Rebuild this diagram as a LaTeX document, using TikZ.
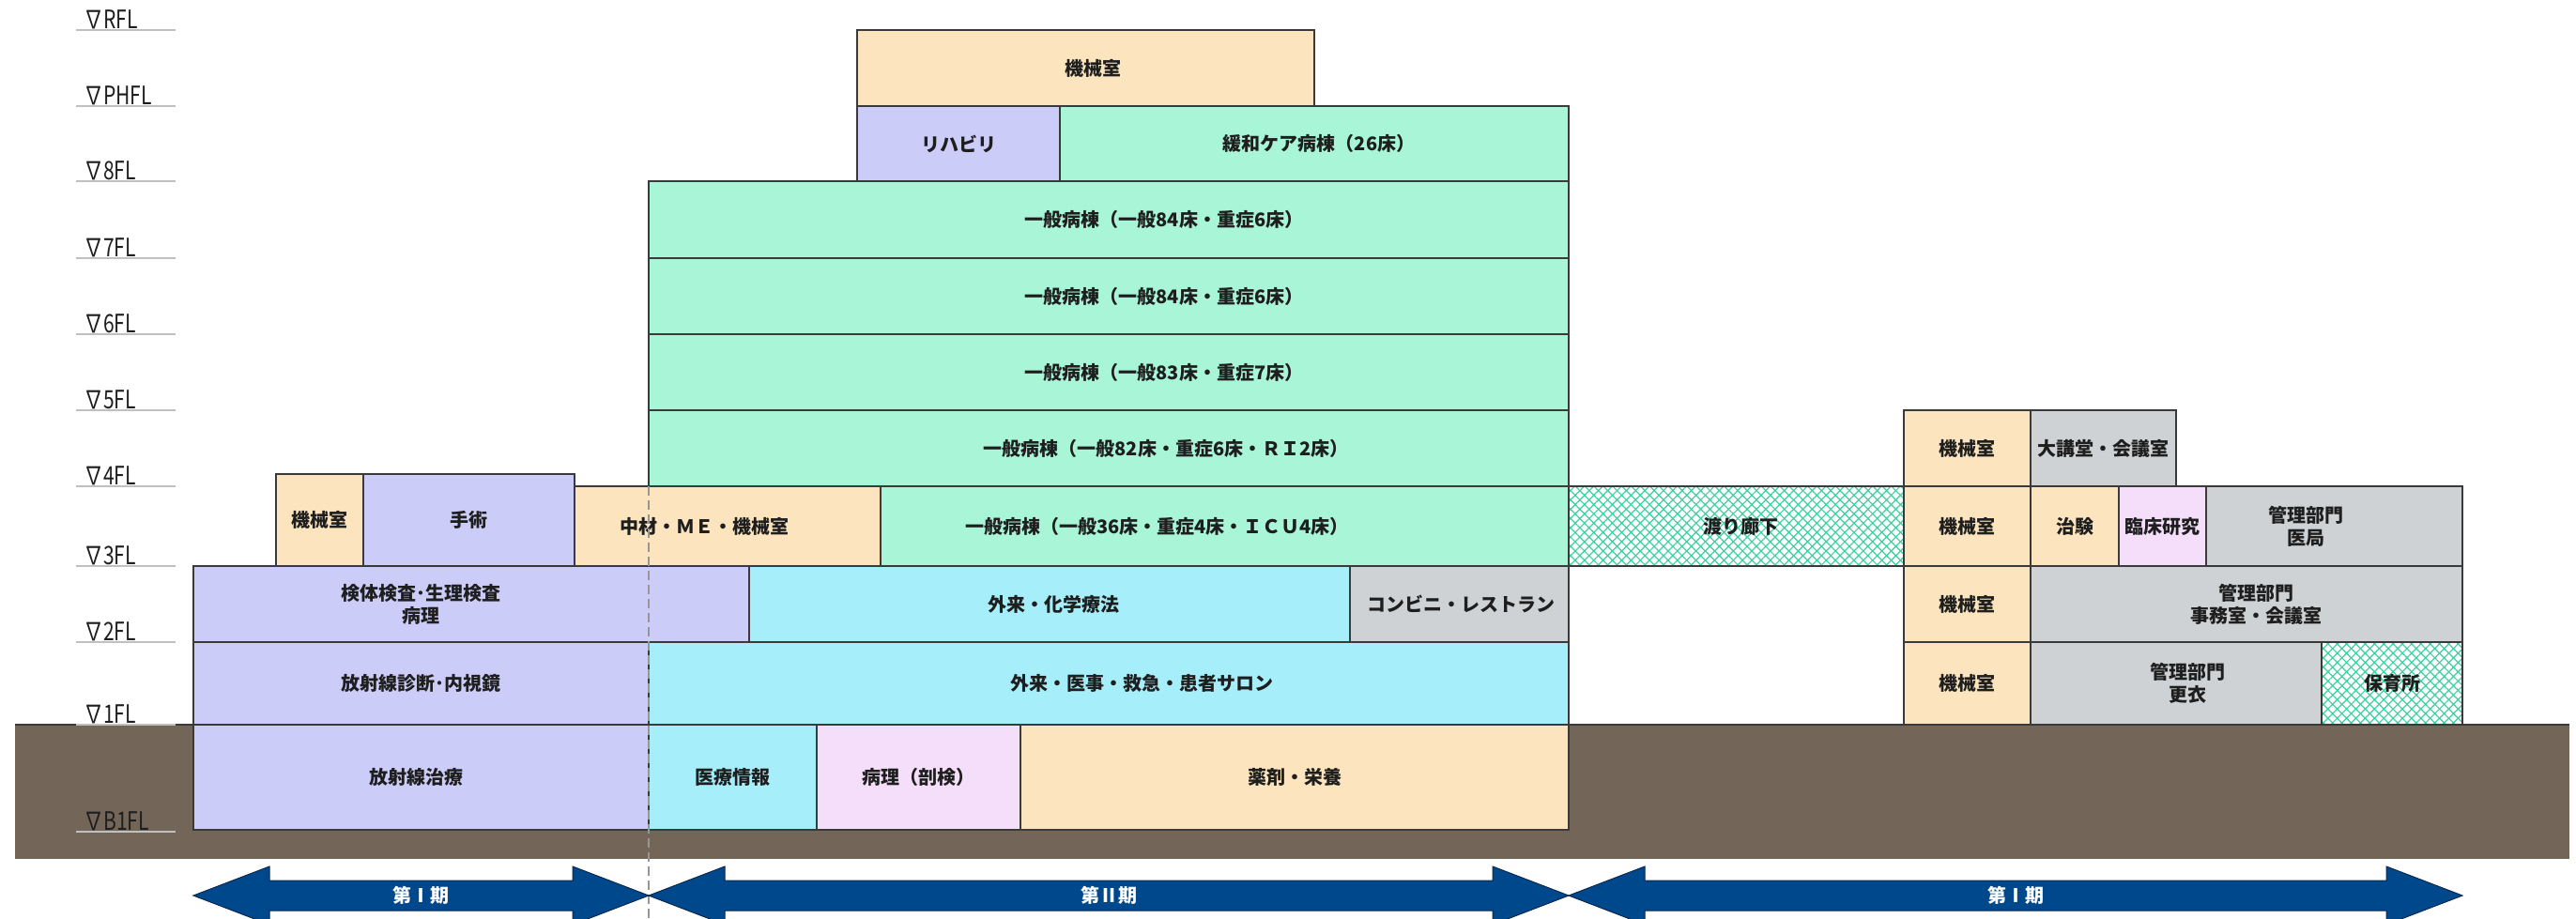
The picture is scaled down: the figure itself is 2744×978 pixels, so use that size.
\documentclass[tikz,border=0pt]{standalone}
\usepackage{fontspec}
\setmainfont{Noto Sans CJK JP}
\newfontfamily\lvlfont{Noto Sans CJK JP}[FakeStretch=0.78]
\usetikzlibrary{patterns.meta}
\definecolor{beige}{RGB}{252,229,190}
\definecolor{lav}{RGB}{204,204,249}
\definecolor{mint}{RGB}{168,245,216}
\definecolor{cyanl}{RGB}{166,238,250}
\definecolor{grayl}{RGB}{206,210,212}
\definecolor{pinkl}{RGB}{245,222,250}
\definecolor{ground}{RGB}{115,101,88}
\definecolor{hatch}{RGB}{60,208,160}
\definecolor{arrowblue}{RGB}{0,72,140}
\definecolor{arrowedge}{RGB}{10,40,80}
\definecolor{edge}{RGB}{58,58,58}
\definecolor{txt}{RGB}{30,30,30}
\definecolor{lvlgray}{RGB}{192,192,192}
\definecolor{dashgray}{RGB}{150,150,150}
\newcommand{\Room}[8]{%
  \node[roombox,#6,minimum width={(#4-#2)*1pt},minimum height={(#5-#3)*1pt}] (#1) at ({(#2+#4)/2},{(#3+#5)/2}) {};
  \node[roomtxt] (#1-t) at ([xshift=#7pt]#1.center) {#8};}
\newcommand{\Level}[3]{%
  \coordinate (#1-a) at (81,#2);
  \coordinate (#1-b) at (187,#2);
  \draw[lvlline] (#1-a) -- (#1-b);
  \node[lvl] (#1) at (89,{#2-2}) {#3};}
\newcommand{\Phase}[4]{%
  \draw[phase] (#2,954) -- ({#2+81},923) -- ({#2+81},938) -- ({#3-81},938) -- ({#3-81},923) -- (#3,954)
    -- ({#3-81},985) -- ({#3-81},970) -- ({#2+81},970) -- ({#2+81},985) -- cycle;
  \node[phasetext] (#1) at ({(#2+#3)/2},954) {#4};}
\begin{document}
\begin{tikzpicture}[x=1pt,y=-1pt,
  roombox/.style={draw=edge, line width=1.5pt, rectangle, inner sep=0pt, outer sep=0pt},
  roomtxt/.style={inner sep=0pt, align=center, font=\fontsize{20}{24}\selectfont\bfseries, text=txt},
  hatchbox/.style={preaction={fill=white},
    preaction={pattern={Lines[angle=45,distance=7pt,line width=1.2pt]}, pattern color=hatch},
    pattern={Lines[angle=-45,distance=7pt,line width=1.2pt]}, pattern color=hatch},
  lvl/.style={font=\lvlfont\fontsize{27}{27}\selectfont, anchor=base west, inner sep=0pt, text=txt},
  lvlline/.style={draw=lvlgray, line width=1.5pt},
  phase/.style={fill=arrowblue, draw=arrowedge, line width=1pt, line join=miter},
  phasetext/.style={text=white, inner sep=0pt, font=\fontsize{20}{20}\selectfont\bfseries}
]
\useasboundingbox (0,0) rectangle (2744,978);
\clip (0,0) rectangle (2744,978);
% ground
\fill[ground] (16,772) rectangle (2737,915);
\draw[edge, line width=1.5pt] (16,772) -- (2737,772);
% ---- Phase I (left)
\Room{rt}{206}{772}{691}{884}{fill=lav}{-5}{放射線治療}
\Room{rd}{206}{684}{691}{772}{fill=lav}{0}{放射線診断･内視鏡}
\Room{kt}{206}{603}{798}{684}{fill=lav}{-54}{検体検査･生理検査\\病理}
\Room{km4}{294}{505}{387}{603}{fill=beige}{0}{機械室}
\Room{op}{387}{505}{612}{603}{fill=lav}{0}{手術}
\Room{cz}{612}{518}{938}{603}{fill=beige}{-25}{中材・ＭＥ・機械室}
% ---- Phase II (centre)
\Room{ij}{691}{772}{870}{884}{fill=cyanl}{0}{医療情報}
\Room{bk}{870}{772}{1087}{884}{fill=pinkl}{0}{病理（剖検）}
\Room{ya}{1087}{772}{1671}{884}{fill=beige}{0}{薬剤・栄養}
\Room{gi}{691}{684}{1671}{772}{fill=cyanl}{35}{外来・医事・救急・患者サロン}
\Room{gk}{798}{603}{1438}{684}{fill=cyanl}{4}{外来・化学療法}
\Room{cv}{1438}{603}{1671}{684}{fill=grayl}{2}{コンビニ・レストラン}
\Room{w3}{938}{518}{1671}{603}{fill=mint}{-72}{一般病棟（一般36床・重症4床・ＩＣＵ4床）}
\Room{w4}{691}{437}{1671}{518}{fill=mint}{61}{一般病棟（一般82床・重症6床・ＲＩ2床）}
\Room{w5}{691}{356}{1671}{437}{fill=mint}{59}{一般病棟（一般83床・重症7床）}
\Room{w6}{691}{275}{1671}{356}{fill=mint}{59}{一般病棟（一般84床・重症6床）}
\Room{w7}{691}{193}{1671}{275}{fill=mint}{59}{一般病棟（一般84床・重症6床）}
\Room{rh}{913}{113}{1129}{193}{fill=lav}{0}{リハビリ}
\Room{kw}{1129}{113}{1671}{193}{fill=mint}{5}{緩和ケア病棟（26床）}
\Room{kmr}{913}{32}{1400}{113}{fill=beige}{8}{機械室}
% ---- Phase I (right)
\Room{wr}{1671}{518}{2028}{603}{hatchbox}{5}{渡り廊下}
\Room{ka}{2028}{437}{2163}{518}{fill=beige}{0}{機械室}
\Room{dk}{2163}{437}{2318}{518}{fill=grayl}{0}{大講堂・会議室}
\Room{kb}{2028}{518}{2163}{603}{fill=beige}{0}{機械室}
\Room{ck}{2163}{518}{2257}{603}{fill=beige}{0}{治験}
\Room{rk}{2257}{518}{2350}{603}{fill=pinkl}{0}{臨床研究}
\Room{ik}{2350}{518}{2623}{603}{fill=grayl}{-30}{管理部門\\医局}
\Room{kc}{2028}{603}{2163}{684}{fill=beige}{0}{機械室}
\Room{jm}{2163}{603}{2623}{684}{fill=grayl}{10}{管理部門\\事務室・会議室}
\Room{kd}{2028}{684}{2163}{772}{fill=beige}{0}{機械室}
\Room{ki}{2163}{684}{2473}{772}{fill=grayl}{12}{管理部門\\更衣}
\Room{hi}{2473}{684}{2623}{772}{hatchbox}{0}{保育所}
% phase boundary
\coordinate (db-top) at (691,518);
\coordinate (db-bot) at (691,978);
\draw[dashgray, line width=1.2pt, dash pattern=on 10pt off 5pt] (db-top) -- (db-bot);
% levels
\Level{lR}{32}{∇RFL}
\Level{lPH}{113}{∇PHFL}
\Level{l8}{193}{∇8FL}
\Level{l7}{275}{∇7FL}
\Level{l6}{356}{∇6FL}
\Level{l5}{437}{∇5FL}
\Level{l4}{518}{∇4FL}
\Level{l3}{603}{∇3FL}
\Level{l2}{684}{∇2FL}
\Level{l1}{772}{∇1FL}
\Level{lB}{886}{∇B1FL}
% phases
\Phase{p1}{206}{691}{第Ⅰ期}
\Phase{p2}{691}{1671}{第Ⅱ期}
\Phase{p3}{1671}{2623}{第Ⅰ期}
\end{tikzpicture}
\end{document}
